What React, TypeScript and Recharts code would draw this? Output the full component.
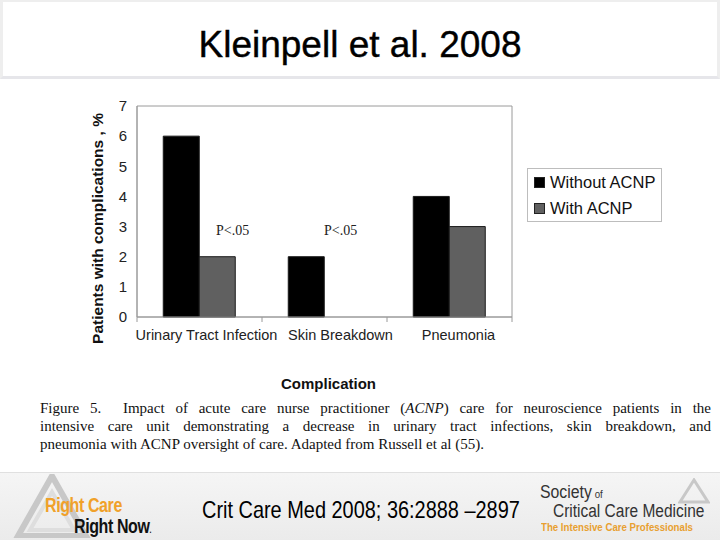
import React from 'react';
import { BarChart, Bar, XAxis, YAxis, ReferenceArea } from 'recharts';

const categories = ['Urinary Tract Infection', 'Skin Breakdown', 'Pneumonia'];
const withoutAcnp = [6, 2, 4];
const withAcnp = [2, 0, 3];
const yTicks = [0, 1, 2, 3, 4, 5, 6, 7];
const pLabels = ['P<.05', 'P<.05'];

const data = categories.map((name, i) => ({ name, without: withoutAcnp[i], with: withAcnp[i] }));

const BLACK = '#000000';
const GRAY = '#606060';
const FRAME = '#9a9a9a';
const SANS = 'Arial, "Liberation Sans", sans-serif';
const SERIF = '"Liberation Serif", "Times New Roman", serif';

const abs = (left: number, top: number): React.CSSProperties => ({ position: 'absolute', left, top });

const YLabel = (props: any) => {
  const { viewBox } = props;
  const cx = viewBox.x - 10;
  const cy = viewBox.y + viewBox.height / 2 + 17;
  return (
    <text x={cx} y={cy} transform={`rotate(-90 ${cx} ${cy})`} textAnchor="middle" dominantBaseline="central"
      fontFamily={SANS} fontWeight="bold" fontSize={15.5} fill="#111">
      Patients with complications , %
    </text>
  );
};

const XLabel = (props: any) => {
  const { viewBox } = props;
  return (
    <text x={viewBox.x + viewBox.width / 2 + 4} y={389} textAnchor="middle"
      fontFamily={SANS} fontWeight="bold" fontSize={15} fill="#111">
      Complication
    </text>
  );
};

// labels sit a little right of the band centres; tick marks go on the band edges
const tickShift = [7, 16, 9];
const CatTick = (props: any) => {
  const { x, y, payload, index, width, visibleTicksCount } = props;
  const half = width / visibleTicksCount / 2;
  const axisY = y - 8;
  return (
    <g>
      <line x1={x - half} x2={x - half} y1={axisY} y2={axisY + 5} stroke={FRAME} />
      {index === visibleTicksCount - 1 && <line x1={x + half} x2={x + half} y1={axisY} y2={axisY + 5} stroke={FRAME} />}
      <text x={x + (tickShift[index] ?? 0)} y={y + 15} textAnchor="middle" fontFamily={SANS} fontSize={14.5} fill="#222">
        {payload.value}
      </text>
    </g>
  );
};

const Legend = () => (
  <div style={{ ...abs(527, 168), width: 135, height: 54, border: '1px solid #bdbdbd', background: '#fff', boxSizing: 'border-box', fontFamily: SANS, fontSize: 16.5, color: '#111' }}>
    {[{ c: BLACK, t: 'Without ACNP' }, { c: GRAY, t: 'With ACNP' }].map((it, i) => (
      <div key={it.t} style={{ ...abs(6, 4 + i * 26), display: 'flex', alignItems: 'center', whiteSpace: 'nowrap' }}>
        <span style={{ width: 11, height: 11, background: it.c, border: '1px solid #222', boxSizing: 'border-box', marginRight: 5 }} />
        {it.t}
      </div>
    ))}
  </div>
);

const narrow = (scale: number): React.CSSProperties => ({ transform: `scaleX(${scale})`, transformOrigin: 'left top', whiteSpace: 'nowrap' });

const RightCareLogo = () => (
  <div style={abs(10, 474)}>
    <svg width={160} height={64}>
      <polygon points="8,62 42,2 76,62" fill="none" stroke="#c8c8c8" strokeWidth={6} />
      <polygon points="20,56 42,18 64,56" fill="none" stroke="#dedede" strokeWidth={4} />
    </svg>
    <div style={{ ...abs(35, 20), ...narrow(0.8), fontFamily: SANS, fontWeight: 'bold', fontSize: 20, color: '#f0a12a', letterSpacing: -0.5 }}>Right Care</div>
    <div style={{ ...abs(64, 41), ...narrow(0.8), fontFamily: SANS, fontWeight: 'bold', fontSize: 20, color: '#111', letterSpacing: -0.5 }}>
      Right Now<span style={{ fontSize: 9 }}>.</span>
    </div>
  </div>
);

const SccmLogo = () => (
  <div style={abs(538, 478)}>
    <svg style={abs(140, 0)} width={32} height={26}>
      <polygon points="2,24 16,2 30,24" fill="none" stroke="#c8c8c8" strokeWidth={3} />
    </svg>
    <div style={{ ...abs(2, 4), ...narrow(0.88), fontFamily: SANS, fontSize: 18, color: '#333' }}>
      Society<span style={{ fontSize: 11 }}> of</span>
    </div>
    <div style={{ ...abs(15, 23), ...narrow(0.86), fontFamily: SANS, fontSize: 18, color: '#333' }}>Critical Care Medicine</div>
    <div style={{ ...abs(3, 43), ...narrow(0.92), fontFamily: SANS, fontWeight: 'bold', fontSize: 10.5, color: '#e8a030' }}>The Intensive Care Professionals</div>
  </div>
);

export default function App() {
  return (
    <div style={{ position: 'absolute', left: 0, top: 0, width: 720, height: 540, background: '#fff', overflow: 'hidden' }}>
      <div style={{ ...abs(0, 0), width: 720, height: 79, borderBottom: '3px solid #e6e6ea', borderLeft: '3px solid #eee', borderRight: '3px solid #eee', borderTop: '2px solid #eee', boxSizing: 'border-box' }} />
      <div style={{ ...abs(0, 24), width: 720, textAlign: 'center', fontFamily: SANS, fontSize: 37, color: '#000', WebkitTextStroke: '0.4px #000' }}>Kleinpell et al. 2008</div>

      <div style={abs(0, 0)}>
        <BarChart width={720} height={400} data={data} margin={{ top: 106, right: 208, bottom: 53, left: 107 }}
          barCategoryGap="21%" barGap={0}>
          <XAxis dataKey="name" height={30} tickLine={false} axisLine={{ stroke: FRAME }}
            tick={<CatTick />} interval={0} label={<XLabel />} />
          <YAxis domain={[0, 7]} ticks={yTicks} width={30} tickLine={false} axisLine={{ stroke: FRAME }}
            tickMargin={10} tickSize={0} tick={{ fontFamily: SANS, fontSize: 15, fill: '#222' }} label={<YLabel />} />
          <ReferenceArea x1={categories[0]} x2={categories[2]} y1={0} y2={7}
            fill="none" stroke={FRAME} strokeWidth={1} ifOverflow="visible" />
          <Bar dataKey="without" name="Without ACNP" fill={BLACK} stroke="#1a1a1a" isAnimationActive={false} />
          <Bar dataKey="with" name="With ACNP" fill={GRAY} stroke="#1a1a1a" isAnimationActive={false} />
        </BarChart>
      </div>

      {pLabels.map((t, i) => (
        <div key={i} style={{ ...abs(i === 0 ? 216 : 324, 223), fontFamily: SERIF, fontSize: 14, color: '#222' }}>{t}</div>
      ))}

      <Legend />

      <div style={{ ...abs(40, 399), width: 671, fontFamily: SERIF, fontSize: 15, lineHeight: '18px', color: '#111' }}>
        <div style={{ textAlign: 'justify', textAlignLast: 'justify', whiteSpace: 'pre-wrap' }}>
          {'Figure 5.  Impact of acute care nurse practitioner ('}<i>ACNP</i>{') care for neuroscience patients in the'}
        </div>
        <div style={{ textAlign: 'justify', textAlignLast: 'justify' }}>
          intensive care unit demonstrating a decrease in urinary tract infections, skin breakdown, and
        </div>
        <div>pneumonia with ACNP oversight of care. Adapted from Russell et al (55).</div>
      </div>

      <div style={{ ...abs(0, 472), width: 720, height: 68, background: 'linear-gradient(#f5f5f5, #ebebeb)', borderTop: '1px solid #e0e0e0', boxSizing: 'border-box' }} />
      <RightCareLogo />
      <div style={{ ...abs(202, 496), ...narrow(0.83), fontFamily: SANS, fontSize: 24, color: '#000' }}>
        Crit Care Med 2008; 36:2888 –2897
      </div>
      <SccmLogo />
    </div>
  );
}
